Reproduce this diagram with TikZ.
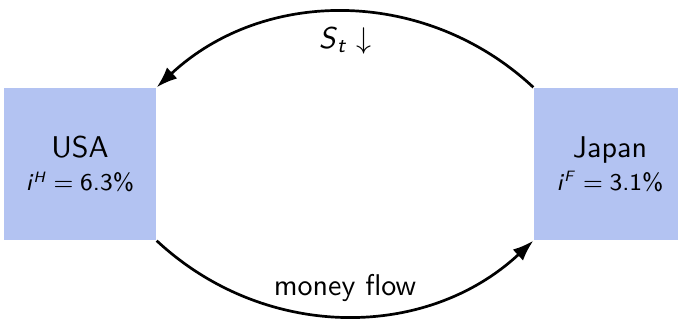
\documentclass[tikz,border=0pt]{standalone}
\usetikzlibrary{arrows.meta}
\definecolor{boxblue}{RGB}{179,195,242}
\newcommand{\rate}[2]{{\footnotesize\textit{i}\textsuperscript{\tiny\textit{#1}}\;$=$\;#2\%}}
\tikzset{country/.style={fill=boxblue,minimum width=50.7pt,minimum height=50.7pt,align=center,font=\sffamily}}
\begin{document}
\sffamily
\begin{tikzpicture}[x=0.3333pt,y=-0.3333pt]
\useasboundingbox (0,0) rectangle (678,321);
\node[country] (usa) at (80,164) {USA\\[-1pt]\rate{H}{6.3}};
\node[country] (japan) at (610,164) {Japan\\[-1pt]\rate{F}{3.1}};
\draw[-{Latex[length=7pt,width=5pt]},line width=0.9pt] (japan.north west) to[bend right=43] node[below=1pt] {\textit{S}\textsubscript{\textit{t}}\;$\downarrow$} (usa.north east);
\draw[-{Latex[length=7pt,width=5pt]},line width=0.9pt] (usa.south east) to[bend right=43] node[above=1pt] {money flow} (japan.south west);
\end{tikzpicture}
\end{document}
